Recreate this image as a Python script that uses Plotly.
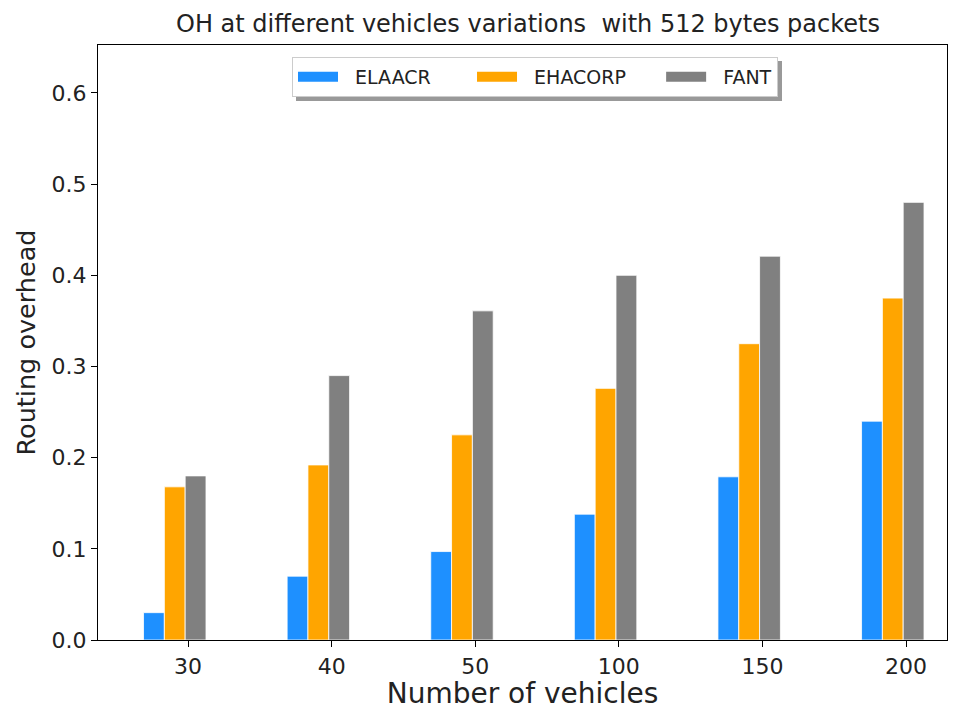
import plotly.graph_objects as go

# Number of vehicles in the network
vehicles = ["30", "40", "50", "100", "150", "200"]

# Routing overhead per protocol
elaacr = [0.030, 0.070, 0.097, 0.138, 0.179, 0.240]
ehacorp = [0.168, 0.192, 0.225, 0.276, 0.325, 0.375]
fant = [0.180, 0.290, 0.361, 0.400, 0.421, 0.480]

# name, values, colour, bar offset, legend label (padded for spacing)
series = [
    ("ELAACR", elaacr, "#1E90FF", -0.31, "  ELAACR      "),
    ("EHACORP", ehacorp, "#FFA500", -0.165, "  EHACORP     "),
    ("FANT", fant, "#808080", -0.02, "  FANT"),
]

BAR_W = 0.145
pos = list(range(len(vehicles)))

fig = go.Figure()
for name, vals, color, off, label in series:
    fig.add_trace(go.Bar(
        x=pos, y=vals, name=name, offset=off, width=BAR_W,
        marker=dict(color=color, line=dict(color="white", width=0.8)),
        showlegend=False,
    ))
    # wide legend swatch
    fig.add_trace(go.Scatter(
        x=[None], y=[None], mode="lines", name=label,
        line=dict(color=color, width=13),
    ))

FONT = "DejaVu Sans"
tick_font = dict(family=FONT, size=22, color="#222")

fig.update_layout(
    width=954, height=710,
    margin=dict(l=98, r=7, t=45, b=70),
    paper_bgcolor="white", plot_bgcolor="white",
    barmode="overlay",
    title=dict(
        text="OH at different vehicles variations  with 512 bytes packets",
        x=528 / 954, xanchor="center", y=1 - 24 / 710, yanchor="middle",
        font=dict(family=FONT, size=24, color="#222"),
    ),
    font=dict(family=FONT, color="#222"),
    legend=dict(
        orientation="h", x=0.2285, xanchor="left", y=0.98, yanchor="top",
        bgcolor="white", bordercolor="#cccccc", borderwidth=1,
        font=dict(family=FONT, size=19, color="#222"),
        itemwidth=40,
    ),
    xaxis=dict(
        range=[-0.627, 5.285], tickmode="array", tickvals=pos, ticktext=vehicles,
        showline=True, linecolor="black", linewidth=1.2, mirror=True,
        ticks="outside", ticklen=6, tickcolor="black",
        showgrid=False, zeroline=False, tickfont=tick_font, automargin=False,
        title=dict(text="Number of vehicles", font=dict(family=FONT, size=28, color="#222"), standoff=9),
    ),
    yaxis=dict(
        range=[0, 0.6526], tickmode="array",
        tickvals=[0, 0.1, 0.2, 0.3, 0.4, 0.5, 0.6],
        ticktext=["0.0", "0.1", "0.2", "0.3", "0.4", "0.5", "0.6"],
        showline=True, linecolor="black", linewidth=1.2, mirror=True,
        ticks="outside", ticklen=6, tickcolor="black",
        showgrid=False, zeroline=False, tickfont=tick_font, automargin=False,
        title=dict(text="Routing overhead", font=dict(family=FONT, size=25.5, color="#222"), standoff=8),
    ),
)

# drop shadow behind the legend box
fig.add_shape(
    type="rect", xref="paper", yref="paper",
    x0=(292 + 4 - 98) / 849, x1=(778 + 4 - 98) / 849,
    y0=(640 - 101) / 595, y1=(640 - 61) / 595,
    fillcolor="#999999", line=dict(width=0), layer="above",
)

fig.write_html("out.html")
